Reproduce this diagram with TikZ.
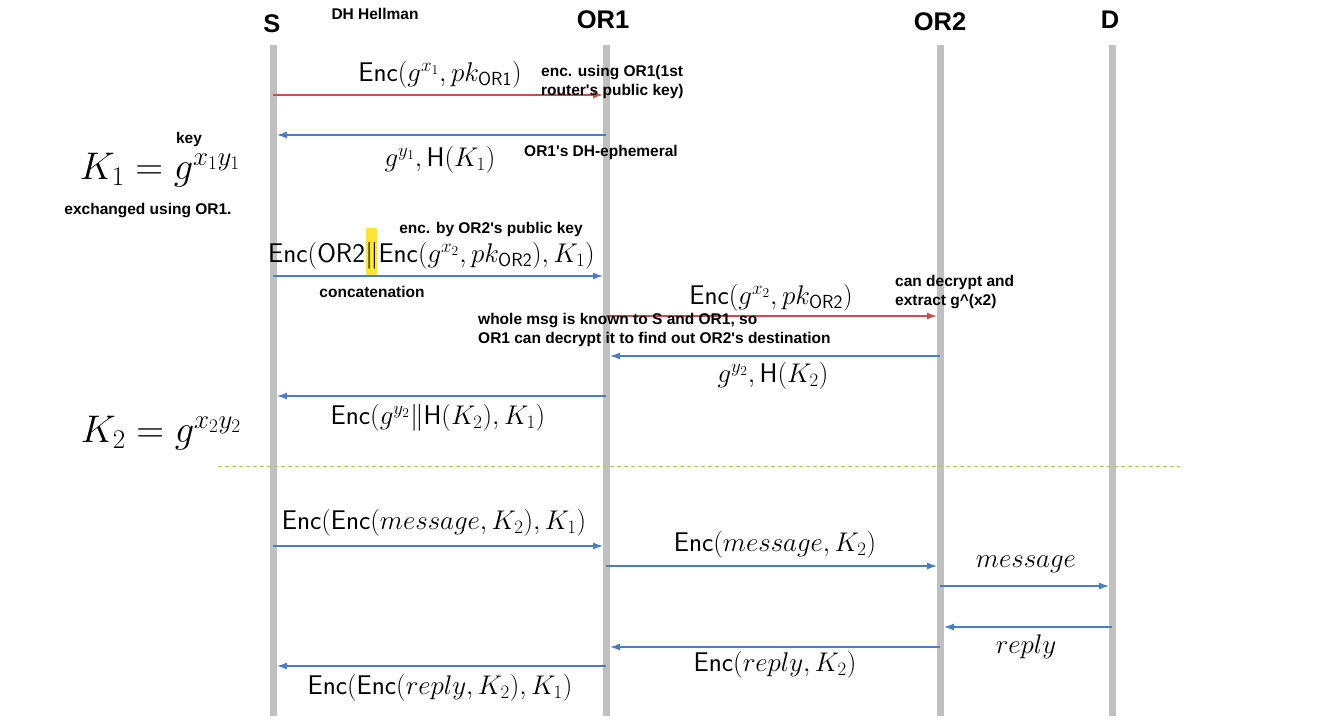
\documentclass[tikz,border=0pt]{standalone}
\usepackage{fix-cm}
\usepackage{fontspec}
\newfontfamily\arial{Liberation Sans}
\usetikzlibrary{arrows.meta}
\definecolor{lifegray}{RGB}{192,192,192}
\definecolor{msgblue}{RGB}{74,126,193}
\definecolor{msgred}{RGB}{200,80,80}
\definecolor{sepgreen}{RGB}{165,205,70}
\definecolor{hlyellow}{RGB}{255,228,60}
\begin{document}
\begin{tikzpicture}[x=1pt,y=-1pt,
  life/.style={draw=lifegray, line width=7pt},
  head/.style={font=\arial\bfseries\fontsize{25.5}{30}\selectfont, inner sep=0},
  note/.style={font=\arial\bfseries\fontsize{15.5}{18.5}\selectfont, align=left, inner sep=0},
  msg/.style={font=\fontsize{27}{32}\selectfont, inner sep=0},
  eqn/.style={font=\fontsize{38.5}{46}\selectfont, inner sep=0},
  bluemsg/.style={draw=msgblue, line width=1.2pt, -{Latex[length=10pt,width=7pt]}},
  redmsg/.style={draw=msgred, line width=1.2pt, -{Latex[length=10pt,width=7pt]}},
  sep/.style={draw=sepgreen, line width=1pt, dash pattern=on 4pt off 3pt}]
\useasboundingbox (0,0) rectangle (1322,721);
\fill[white] (0,0) rectangle (1322,721);

% headers
\node[head] (S) at (272,24) {S};
\node[head] (OR1) at (603,20) {OR1};
\node[head] (OR2) at (940,22) {OR2};
\node[head] (D) at (1110,20) {D};
\node[note] (dh) at (375,14) {DH Hellman};

% lifelines
\coordinate (St) at (273,45);  \coordinate (Sb) at (273,716);
\coordinate (O1t) at (606,45); \coordinate (O1b) at (606,716);
\coordinate (O2t) at (940,45); \coordinate (O2b) at (940,716);
\coordinate (Dt) at (1112,45); \coordinate (Db) at (1112,716);
\draw[life] (St) -- (Sb);
\draw[life] (O1t) -- (O1b);
\draw[life] (O2t) -- (O2b);
\draw[life] (Dt) -- (Db);

% message end points
\coordinate (a1) at (273,95);   \coordinate (b1) at (603,95);
\coordinate (a2) at (606,135);  \coordinate (b2) at (277,135);
\coordinate (a3) at (273,276);  \coordinate (b3) at (603,276);
\coordinate (a4) at (606,316);  \coordinate (b4) at (937,316);
\coordinate (a5) at (940,356);  \coordinate (b5) at (610,356);
\coordinate (a6) at (606,396);  \coordinate (b6) at (277,396);
\coordinate (a7) at (273,546);  \coordinate (b7) at (603,546);
\coordinate (a8) at (606,566);  \coordinate (b8) at (937,566);
\coordinate (a9) at (940,586);  \coordinate (b9) at (1109,586);
\coordinate (a10) at (1112,627); \coordinate (b10) at (944,627);
\coordinate (a11) at (940,647); \coordinate (b11) at (610,647);
\coordinate (a12) at (606,666); \coordinate (b12) at (277,666);

% highlight behind the concatenation bar
\coordinate (hl1) at (366,228); \coordinate (hl2) at (377,277);
\fill[hlyellow] (hl1) rectangle (hl2);

% arrows
\draw[redmsg] (a1) -- (b1);
\draw[bluemsg] (a2) -- (b2);
\draw[bluemsg] (a3) -- (b3);
\draw[redmsg] (a4) -- (b4);
\draw[bluemsg] (a5) -- (b5);
\draw[bluemsg] (a6) -- (b6);
\draw[bluemsg] (a7) -- (b7);
\draw[bluemsg] (a8) -- (b8);
\draw[bluemsg] (a9) -- (b9);
\draw[bluemsg] (a10) -- (b10);
\draw[bluemsg] (a11) -- (b11);
\draw[bluemsg] (a12) -- (b12);

% separator
\coordinate (sl) at (218,466); \coordinate (sr) at (1180,466);
\draw[sep] (sl) -- (sr);

% message labels
\node[msg] (l1) at (440,75) {$\mathsf{Enc}(g^{x_1}, pk_{\mathsf{OR1}})$};
\node[msg] (l2) at (440,160) {$g^{y_1}, \mathsf{H}(K_1)$};
\node[msg, anchor=base west] (l3) at (268,262) {$\mathsf{Enc}(\mathsf{OR2}\|\mathsf{Enc}(g^{x_2}, pk_{\mathsf{OR2}}), K_1)$};
\node[msg] (l4) at (771,298) {$\mathsf{Enc}(g^{x_2}, pk_{\mathsf{OR2}})$};
\node[msg] (l5) at (773,376) {$g^{y_2}, \mathsf{H}(K_2)$};
\node[msg] (l6) at (438,418) {$\mathsf{Enc}(g^{y_2}\|\mathsf{H}(K_2), K_1)$};
\node[msg] (l7) at (434,523) {$\mathsf{Enc}(\mathsf{Enc}(message, K_2), K_1)$};
\node[msg] (l8) at (775,545) {$\mathsf{Enc}(message, K_2)$};
\node[msg] (l9) at (1026,564) {$message$};
\node[msg] (l10) at (1026,647) {$reply$};
\node[msg] (l11) at (775,665) {$\mathsf{Enc}(reply, K_2)$};
\node[msg] (l12) at (440,688) {$\mathsf{Enc}(\mathsf{Enc}(reply, K_2), K_1)$};

% key equations
\node[eqn] (k1) at (160,170) {$K_1 = g^{x_1 y_1}$};
\node[eqn] (k2) at (161,433) {$K_2 = g^{x_2 y_2}$};

% notes
\node[note] (n1) at (189,139) {key};
\node[note] (n2) at (148,211) {exchanged using OR1.};
\node[note, anchor=west] (n3) at (541,82) {enc. using OR1(1st\\router's public key)};
\node[note, anchor=west] (n4) at (524,152) {OR1's DH-ephemeral};
\node[note] (n5) at (491,229) {enc. by OR2's public key};
\node[note] (n6) at (372,292) {concatenation};
\node[note, anchor=west] (n7) at (895,292) {can decrypt and\\extract g\^{}(x2)};
\node[note, anchor=west] (n8) at (478,330) {whole msg is known to S and OR1, so\\OR1 can decrypt it to find out OR2's destination};
\end{tikzpicture}
\end{document}
